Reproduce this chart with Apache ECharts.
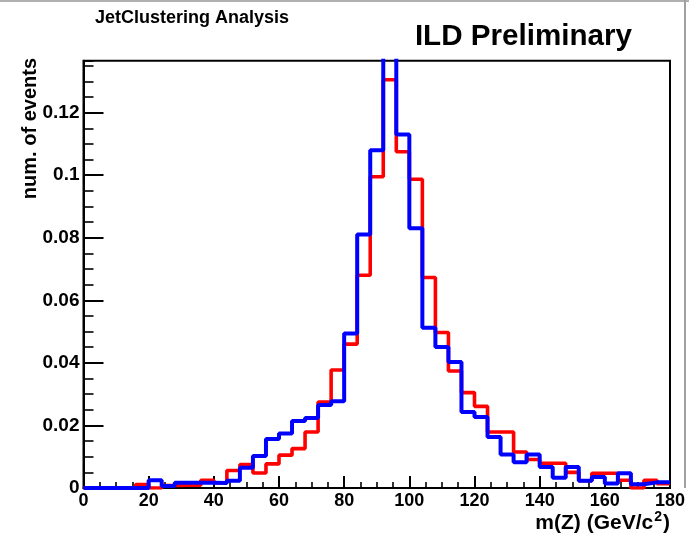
<!DOCTYPE html>
<html><head><meta charset="utf-8">
<script src="https://cdn.jsdelivr.net/npm/echarts@6/dist/echarts.min.js"></script>
<style>html,body{margin:0;padding:0;background:#fff}#c{width:689px;height:535px}</style>
</head><body><div id="c"></div>
<script>
// histogram bins: lower edges (GeV/c^2), width 4
const binLowEdges = [0,4,8,12,16,20,24,28,32,36,40,44,48,52,56,60,64,68,72,76,80,84,88,92,96,100,104,108,112,116,120,124,128,132,136,140,144,148,152,156,160,164,168,172,176];
const binWidth = 4;
const redValues = [0,0,0,0,0.0011,0,0.0008,0.0009,0.0009,0.0025,0.0017,0.0056,0.0075,0.0048,0.0077,0.0105,0.0126,0.0179,0.0275,0.0377,0.0460,0.0680,0.0995,0.1305,0.1075,0.0987,0.0673,0.0497,0.0374,0.0305,0.0261,0.0179,0.0179,0.0115,0.0091,0.0079,0.0079,0.0050,0.0023,0.0047,0.0047,0.0025,0,0.0025,0.0014];
const blueValues = [0,0,0,0,0,0.0025,0.0006,0.0017,0.0017,0.0017,0.0016,0.0023,0.0065,0.0102,0.0157,0.0174,0.0214,0.0224,0.0265,0.0277,0.0494,0.0810,0.1080,0.1500,0.1130,0.0830,0.0512,0.0451,0.0403,0.0243,0.0227,0.0163,0.0107,0.0082,0.0107,0.0067,0.0033,0.0067,0.0023,0.0035,0.0014,0.0047,0.0012,0.0018,0.0018];
const xTickLabels = ['0','20','40','60','80','100','120','140','160','180'];
const yTickLabels = ['0','0.02','0.04','0.06','0.08','0.1','0.12'];
const xMin = 0, xMax = 180, yMin = 0, yMax = 0.1366;

function stepData(vals){
  const d = binLowEdges.map((e,i)=>[e, vals[i]]);
  d.push([binLowEdges[binLowEdges.length-1]+binWidth, vals[vals.length-1]]);
  return d;
}
const FONT = '"Liberation Sans", Arial, Helvetica, sans-serif';
const chart = echarts.init(document.getElementById('c'), null, {renderer:'canvas'});
chart.setOption({
  animation:false,
  backgroundColor:'#fff',
  grid:{left:83.5, right:19, top:60.7, bottom:47, show:true, borderColor:'#000', borderWidth:2, backgroundColor:'transparent'},
  xAxis:{
    type:'value', min:xMin, max:xMax, interval:20,
    axisLine:{show:true, onZero:false, lineStyle:{color:'#000', width:2}},
    axisTick:{show:true, inside:true, length:12, lineStyle:{color:'#000', width:2}},
    minorTick:{show:true, splitNumber:4, length:6, lineStyle:{color:'#000', width:1.6}},
    splitLine:{show:false},
    axisLabel:{margin:4, color:'#000', fontFamily:FONT, fontWeight:'bold', fontSize:18,
      formatter:(v)=>{const s=String(Math.round(v)); return xTickLabels.includes(s)?s:'';}}
  },
  yAxis:[{
    type:'value', min:yMin, max:yMax, interval:0.02,
    axisLine:{show:true, lineStyle:{color:'#000', width:2}},
    axisTick:{show:true, inside:true, length:20, lineStyle:{color:'#000', width:2}},
    splitLine:{show:false},
    axisLabel:{margin:4, color:'#000', fontFamily:FONT, fontWeight:'bold', fontSize:19, showMaxLabel:false,
      formatter:(v)=>{const s=String(+v.toFixed(4)); return yTickLabels.includes(s)?s:'';}}
  },{
    type:'value', min:yMin, max:yMax, interval:0.005, position:'left',
    axisLine:{show:false}, axisLabel:{show:false}, splitLine:{show:false},
    axisTick:{show:true, inside:true, length:10, lineStyle:{color:'#000', width:1.6}}
  }],
  series:[
    {type:'line', name:'red', data:stepData(redValues), step:'end', symbol:'none', clip:true,
     lineStyle:{color:'#ff0000', width:3.6}, z:3},
    {type:'line', name:'blue', data:stepData(blueValues), step:'end', symbol:'none', clip:true,
     lineStyle:{color:'#0000ff', width:4}, z:4}
  ],
  graphic:[
    {type:'rect', shape:{x:0,y:0,width:689,height:2}, style:{fill:'#b0b0b0'}, silent:true},
    {type:'rect', shape:{x:684,y:0,width:2,height:488}, style:{fill:'#a0a0a0'}, silent:true},
    {type:'text', x:95, y:18, style:{text:'JetClustering Analysis', font:'bold 18px '+FONT, fill:'#000', textAlign:'left', textVerticalAlign:'middle'}},
    {type:'text', x:632, y:37, style:{text:'ILD Preliminary', font:'bold 29.6px '+FONT, fill:'#000', textAlign:'right', textVerticalAlign:'middle'}},
    {type:'text', x:30, y:58, rotation:Math.PI/2, style:{text:'num. of events', font:'bold 20px '+FONT, fill:'#000', textAlign:'right', textVerticalAlign:'middle'}},
    {type:'text', x:670, y:522, style:{
      text:'{n|m(Z) (GeV/c}{s|2}{n|)}', textAlign:'right', textVerticalAlign:'middle',
      rich:{n:{font:'bold 21px '+FONT, fill:'#000', color:'#000', verticalAlign:'bottom', lineHeight:24},
            s:{font:'bold 14px '+FONT, fill:'#000', color:'#000', verticalAlign:'top', lineHeight:24, padding:[0,1,10,1]}}}}
  ]
});
</script></body></html>
